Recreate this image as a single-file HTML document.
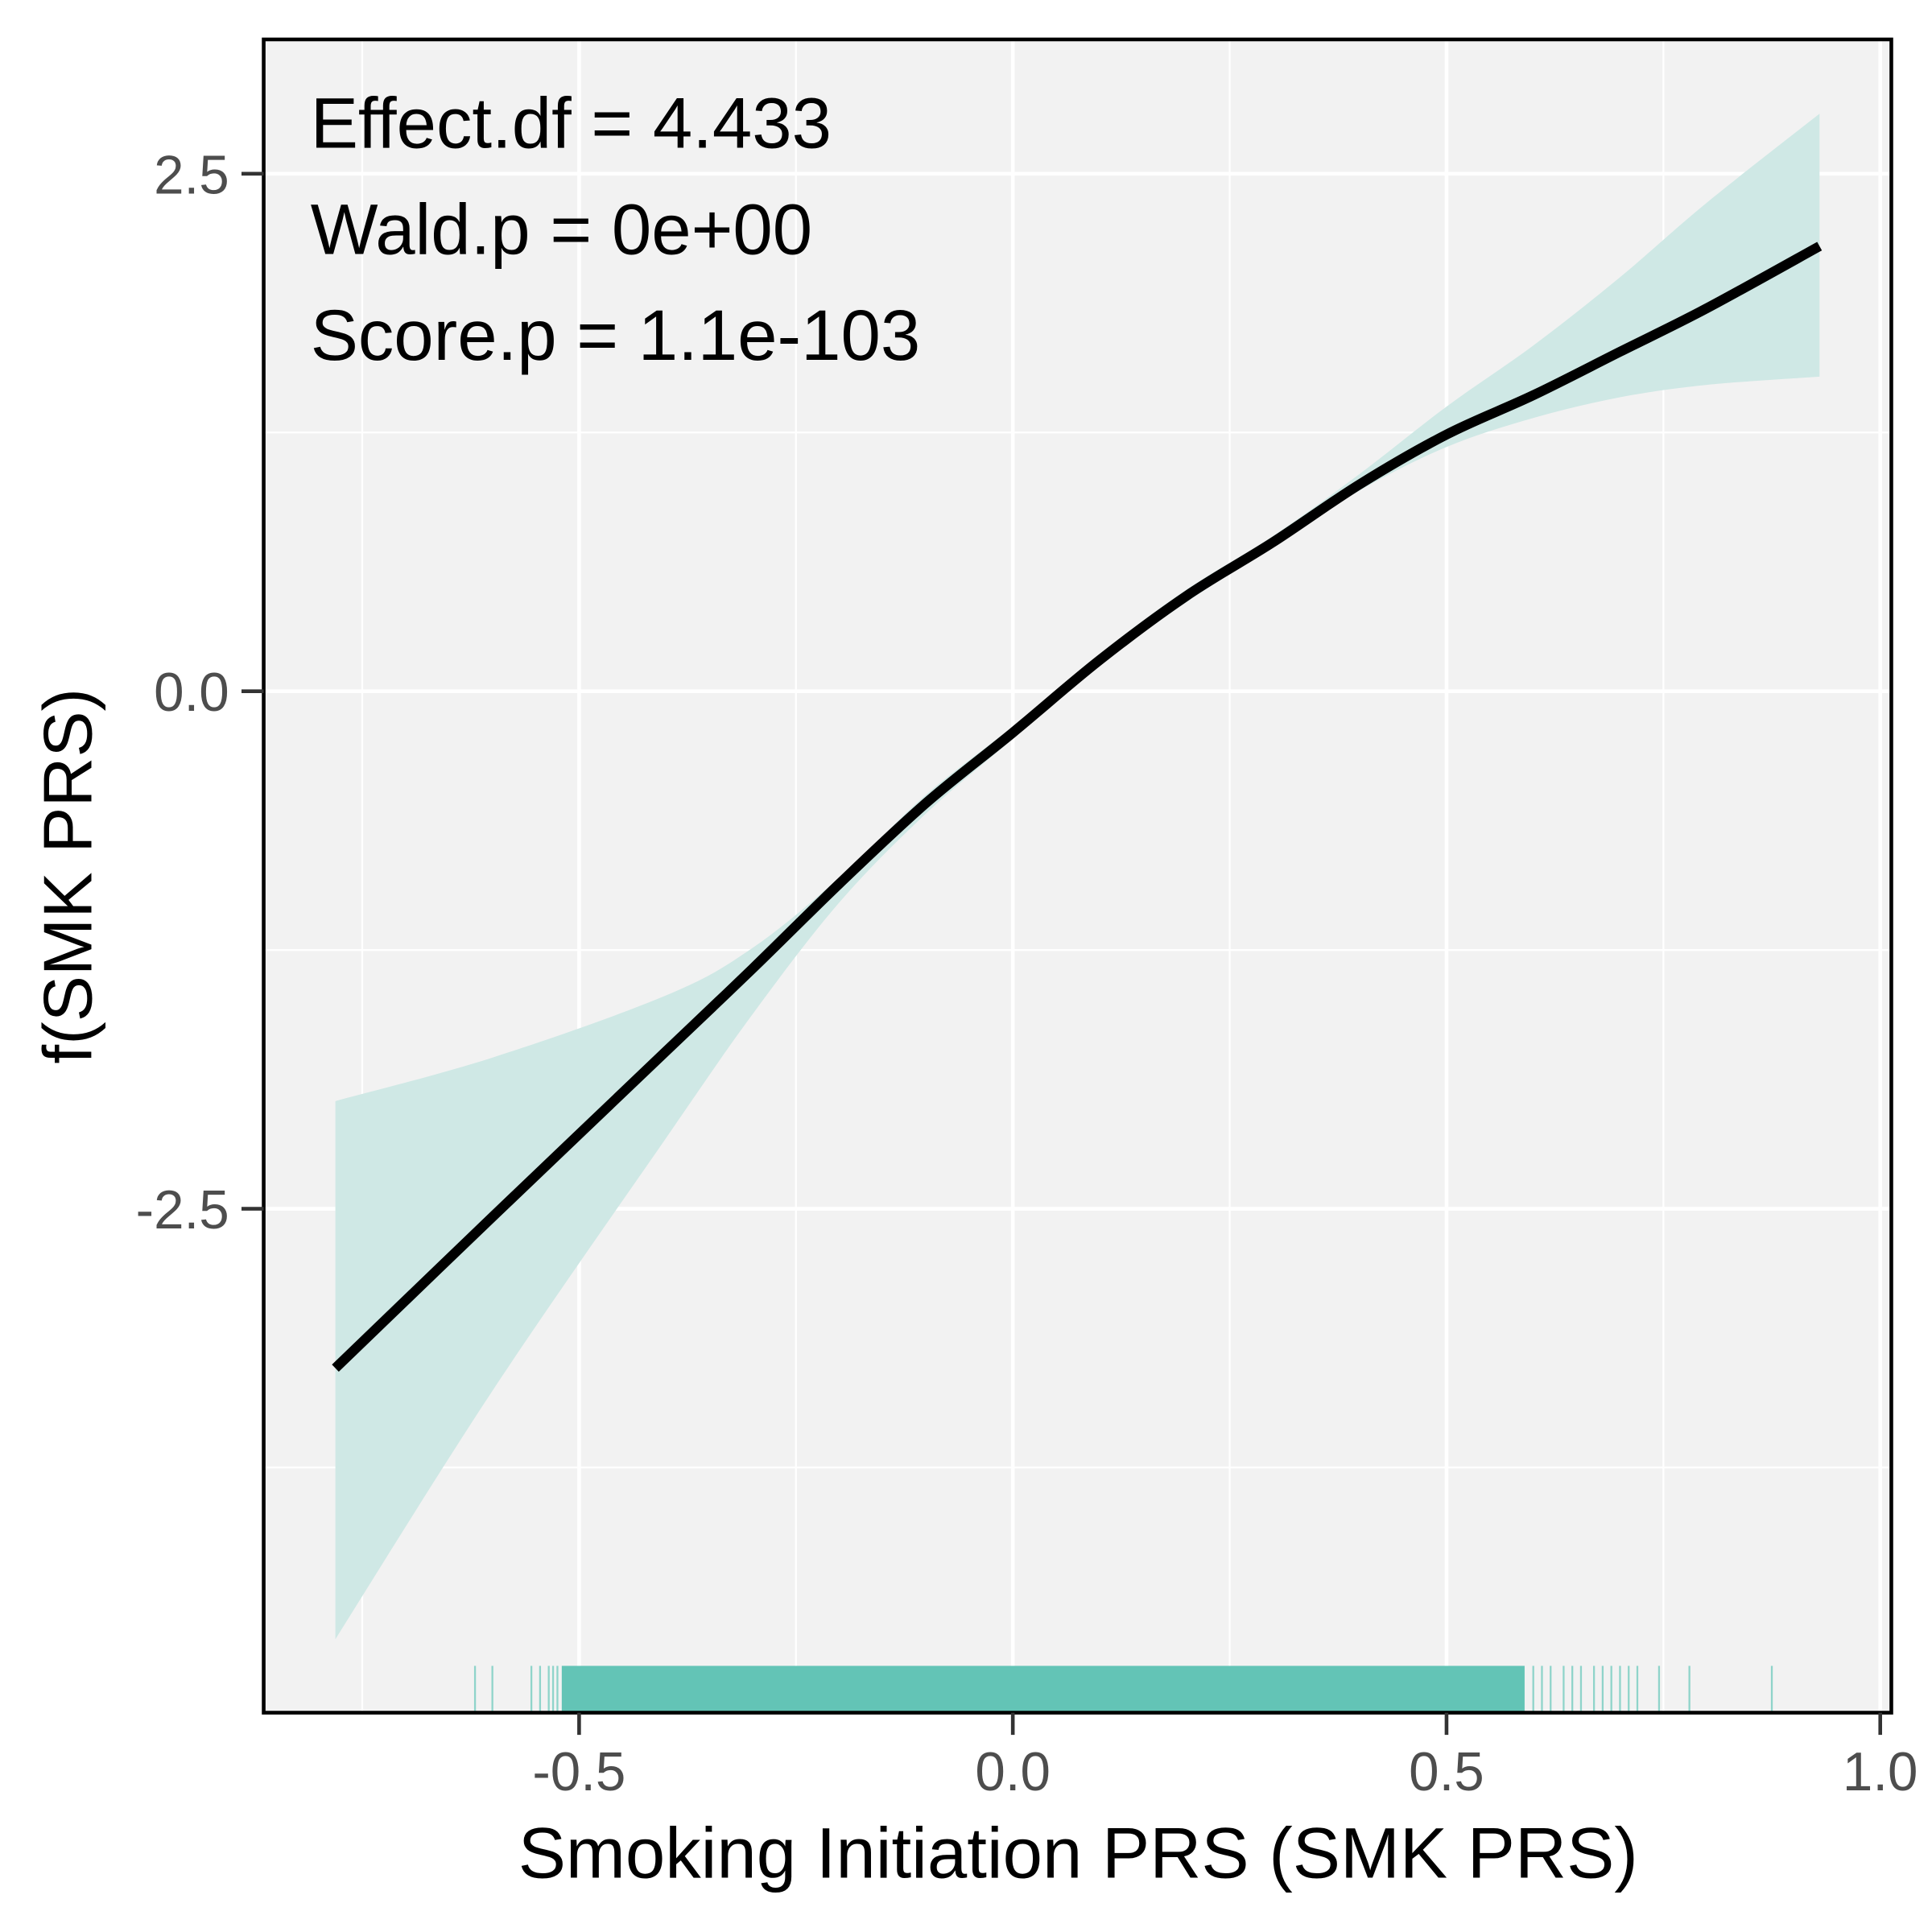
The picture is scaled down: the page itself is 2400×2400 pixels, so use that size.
<!DOCTYPE html>
<html><head><meta charset="utf-8"><style>
html,body{margin:0;padding:0;background:#fff;}
svg{display:block;font-family:"Liberation Sans","DejaVu Sans",sans-serif;}
</style></head><body>
<svg id="chart" width="2400" height="2400" viewBox="0 0 1568 1568" xmlns="http://www.w3.org/2000/svg">
<rect x="214" y="32" width="1321" height="1358" fill="#f2f2f2"/>
<g id="grid"></g>
<g id="band"></g>
<g id="rug"></g>
<g id="line"></g>
<rect x="214" y="32" width="1321" height="1358" fill="none" stroke="#000" stroke-width="3"/>
<g id="axes"></g>
<text x="252" y="120" font-size="58" fill="#000">Effect.df = 4.433</text>
<text x="252" y="206" font-size="58" fill="#000">Wald.p = 0e+00</text>
<text x="252" y="292" font-size="58" fill="#000">Score.p = 1.1e-103</text>
<text x="875" y="1524" font-size="58" text-anchor="middle" fill="#000">Smoking Initiation PRS (SMK PRS)</text>
<text transform="translate(74,711) rotate(-90)" font-size="56" text-anchor="middle" fill="#000">f(SMK PRS)</text>
</svg>
<script>
const xs = [-0.781,-0.6,-0.4,-0.3,-0.2,-0.1,0,0.1,0.2,0.3,0.4,0.5,0.6,0.7,0.8,0.93];
const fit = [-3.27,-2.54,-1.74,-1.34,-0.93,-0.54,-0.20,0.15,0.46,0.72,1.00,1.24,1.43,1.64,1.85,2.15];
const upper = [-1.98,-1.77,-1.47,-1.24,-0.9,-0.50,-0.17,0.18,0.49,0.75,1.05,1.375,1.67,2.0,2.36,2.79];
const lower = [-4.58,-3.38,-2.16,-1.56,-1.02,-0.59,-0.23,0.125,0.43,0.70,0.97,1.18,1.32,1.42,1.48,1.52];
const xTicks = [-0.5,0,0.5,1.0];
const xTickLabels = ["-0.5","0.0","0.5","1.0"];
const yTicks = [2.5,0,-2.5];
const yTickLabels = ["2.5","0.0","-2.5"];
const xMinor = [-0.75,-0.25,0.25,0.75];
const yMinor = [1.25,-1.25,-3.75];
const rugDenseRange = [-0.52,0.59];
const rugSparse = [-0.62,-0.6,-0.555,-0.545,-0.535,-0.53,-0.525,0.6,0.61,0.62,0.635,0.645,0.655,0.67,0.68,0.69,0.7,0.71,0.72,0.745,0.78,0.875];

const NS="http://www.w3.org/2000/svg";
const X = v => 822 + v*704;
const Y = v => 561 - v*168;
function mk(tag, parent, attrs){const e=document.createElementNS(NS,tag);for(const k in attrs)e.setAttribute(k,attrs[k]);document.getElementById(parent).appendChild(e);return e;}
function smooth(pts, move){
  let d = move ? 'M'+pts[0][0]+','+pts[0][1] : 'L'+pts[0][0]+','+pts[0][1];
  for(let i=0;i<pts.length-1;i++){
    const p0=pts[Math.max(0,i-1)],p1=pts[i],p2=pts[i+1],p3=pts[Math.min(pts.length-1,i+2)];
    const c1=[p1[0]+(p2[0]-p0[0])/6,p1[1]+(p2[1]-p0[1])/6];
    const c2=[p2[0]-(p3[0]-p1[0])/6,p2[1]-(p3[1]-p1[1])/6];
    d+='C'+c1[0]+','+c1[1]+' '+c2[0]+','+c2[1]+' '+p2[0]+','+p2[1];
  }
  return d;
}

xMinor.forEach(v=>{const e=mk('line','grid',{x1:X(v),x2:X(v),y1:32,y2:1390,stroke:'#fff','stroke-width':1.5});

});
yMinor.forEach(v=>{const e=mk('line','grid',{x1:214,x2:1535,y1:Y(v),y2:Y(v),stroke:'#fff','stroke-width':1.5});

});
xTicks.forEach(v=>{const e=mk('line','grid',{x1:X(v),x2:X(v),y1:32,y2:1390,stroke:'#fff','stroke-width':3});

});
yTicks.forEach(v=>{const e=mk('line','grid',{x1:214,x2:1535,y1:Y(v),y2:Y(v),stroke:'#fff','stroke-width':3});

});

const up = xs.map((x,i)=>[X(x),Y(upper[i])]);
const lo = xs.map((x,i)=>[X(x),Y(lower[i])]).reverse();
const b=mk('path','band',{d:smooth(up,true)+smooth(lo,false)+'Z',fill:'#cfe8e5'});



const dr=mk('rect','rug',{x:X(rugDenseRange[0]),y:1352,width:X(rugDenseRange[1])-X(rugDenseRange[0]),height:38,fill:'#63c4b6'});


rugSparse.forEach(v=>{const e=mk('line','rug',{x1:X(v),x2:X(v),y1:1352,y2:1390,stroke:'#8fd4ca','stroke-width':1.5});

});

const ln=mk('path','line',{d:smooth(xs.map((x,i)=>[X(x),Y(fit[i])]),true),fill:'none',stroke:'#000','stroke-width':8});



xTicks.forEach((v,i)=>{const t=mk('line','axes',{x1:X(v),x2:X(v),y1:1390,y2:1408,stroke:'#333','stroke-width':3});


const l=mk('text','axes',{x:X(v),y:1453,'font-size':44,'text-anchor':'middle',fill:'#4d4d4d'});l.textContent=xTickLabels[i];

});
yTicks.forEach((v,i)=>{const t=mk('line','axes',{x1:196,x2:214,y1:Y(v),y2:Y(v),stroke:'#333','stroke-width':3});


const l=mk('text','axes',{x:186,y:Y(v)+16,'font-size':44,'text-anchor':'end',fill:'#4d4d4d'});l.textContent=yTickLabels[i];

});
</script>
</body></html>
